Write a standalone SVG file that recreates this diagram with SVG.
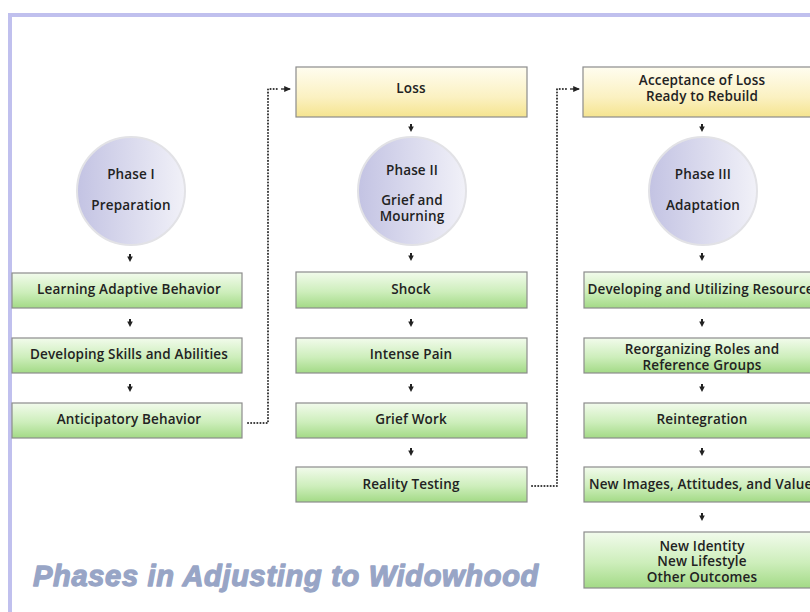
<svg xmlns="http://www.w3.org/2000/svg" width="810" height="612" viewBox="0 0 810 612">
  <defs>
    <linearGradient id="gGreen" x1="0" y1="0" x2="0" y2="1">
      <stop offset="0" stop-color="#f2fbec"/>
      <stop offset="0.55" stop-color="#cdeebb"/>
      <stop offset="1" stop-color="#a3da86"/>
    </linearGradient>
    <linearGradient id="gYellow" x1="0" y1="0" x2="0" y2="1">
      <stop offset="0" stop-color="#fffdf0"/>
      <stop offset="0.6" stop-color="#fbf1c2"/>
      <stop offset="1" stop-color="#f5e48f"/>
    </linearGradient>
    <linearGradient id="gPhase" x1="0" y1="0" x2="1" y2="0">
      <stop offset="0" stop-color="#c3c3e3"/>
      <stop offset="1" stop-color="#f1f1f8"/>
    </linearGradient>
    <marker id="head" viewBox="0 0 6 6" refX="5" refY="3" markerWidth="7" markerHeight="7" orient="auto" markerUnits="userSpaceOnUse">
      <path d="M0,0.5 L6,3 L0,5.5 Z" fill="#222"/>
    </marker>
    <!-- small downward arrow used between stacked items -->
    <path id="down" d="M-1,-4 h2 v2.5 h1.8 l-2.8,5.5 l-2.8,-5.5 h1.8 Z"/>
  </defs>
  <style>
    .box { stroke: #8c8c8c; stroke-width: 1.2; }
    .green { fill: url(#gGreen); }
    .yellow { fill: url(#gYellow); }
    .phase { fill: url(#gPhase); stroke: #e2e2e6; stroke-width: 2; }
    .lbl { font-family: "Open Sans", "Liberation Sans", sans-serif; font-weight: 600; font-size: 13.5px; letter-spacing: 0.15px; fill: #222; text-anchor: middle; dominant-baseline: central; }
    .dot { fill: none; stroke: #333; stroke-width: 2; stroke-dasharray: 0.1 3; stroke-linecap: round; }
    .tick { fill: #222; }
    .title { font-family: "Liberation Sans", Arial, sans-serif; font-weight: bold; font-style: italic; font-size: 29px; fill: #98a5c6; stroke: #98a5c6; stroke-width: 1.3; stroke-linejoin: round; letter-spacing: 0.7px; }
  </style>

  <rect x="0" y="0" width="810" height="612" fill="#ffffff"/>
  <!-- frame -->
  <path d="M10,612 L10,15 L810,15" fill="none" stroke="#c0c0ee" stroke-width="4"/>

  <!-- Phase I column -->
  <g id="phase1">
    <circle cx="131" cy="191" r="54" class="phase"/>
    <text x="131" y="174" class="lbl">Phase I</text>
    <text x="131" y="205" class="lbl">Preparation</text>
  </g>
  <g id="learning">
    <rect x="12" y="273" width="230" height="35" class="box green"/>
    <text x="129" y="289" class="lbl">Learning Adaptive Behavior</text>
  </g>
  <g id="skills">
    <rect x="12" y="338" width="230" height="35" class="box green"/>
    <text x="129" y="354" class="lbl">Developing Skills and Abilities</text>
  </g>
  <g id="anticipatory">
    <rect x="12" y="403" width="230" height="35" class="box green"/>
    <text x="129" y="419" class="lbl">Anticipatory Behavior</text>
  </g>

  <!-- Phase II column -->
  <g id="loss">
    <rect x="296" y="67" width="231" height="50" class="box yellow"/>
    <text x="411" y="88" class="lbl">Loss</text>
  </g>
  <g id="phase2">
    <circle cx="412" cy="191" r="54" class="phase"/>
    <text x="412" y="170" class="lbl">Phase II</text>
    <text x="412" y="200" class="lbl">Grief and</text>
    <text x="412" y="216" class="lbl">Mourning</text>
  </g>
  <g id="shock">
    <rect x="296" y="272" width="231" height="36" class="box green"/>
    <text x="411" y="289" class="lbl">Shock</text>
  </g>
  <g id="pain">
    <rect x="296" y="338" width="231" height="35" class="box green"/>
    <text x="411" y="354" class="lbl">Intense Pain</text>
  </g>
  <g id="griefwork">
    <rect x="296" y="403" width="231" height="35" class="box green"/>
    <text x="411" y="419" class="lbl">Grief Work</text>
  </g>
  <g id="reality">
    <rect x="296" y="467" width="231" height="35" class="box green"/>
    <text x="411" y="484" class="lbl">Reality Testing</text>
  </g>

  <!-- Phase III column -->
  <g id="acceptance">
    <rect x="583" y="67" width="240" height="50" class="box yellow"/>
    <text x="702" y="80" class="lbl">Acceptance of Loss</text>
    <text x="702" y="95.5" class="lbl">Ready to Rebuild</text>
  </g>
  <g id="phase3">
    <circle cx="703" cy="191" r="54" class="phase"/>
    <text x="703" y="174" class="lbl">Phase III</text>
    <text x="703" y="205" class="lbl">Adaptation</text>
  </g>
  <g id="resources">
    <rect x="584" y="272" width="240" height="36" class="box green"/>
    <text x="704" y="289" class="lbl">Developing and Utilizing Resources</text>
  </g>
  <g id="roles">
    <rect x="584" y="338" width="240" height="35" class="box green"/>
    <text x="702" y="349" class="lbl">Reorganizing Roles and</text>
    <text x="702" y="364.5" class="lbl">Reference Groups</text>
  </g>
  <g id="reintegration">
    <rect x="584" y="403" width="240" height="35" class="box green"/>
    <text x="702" y="419" class="lbl">Reintegration</text>
  </g>
  <g id="images">
    <rect x="584" y="467" width="240" height="35" class="box green"/>
    <text x="704" y="484" class="lbl">New Images, Attitudes, and Values</text>
  </g>
  <g id="outcomes">
    <rect x="584" y="532" width="240" height="56" class="box green"/>
    <text x="702" y="545.5" class="lbl">New Identity</text>
    <text x="702" y="561" class="lbl">New Lifestyle</text>
    <text x="702" y="576.5" class="lbl">Other Outcomes</text>
  </g>

  <!-- connectors -->
  <g id="connectors">
    <g class="tick">
      <use href="#down" x="130" y="258"/>
      <use href="#down" x="130" y="323"/>
      <use href="#down" x="130" y="388"/>

      <use href="#down" x="411" y="128"/>
      <use href="#down" x="411" y="257"/>
      <use href="#down" x="411" y="323"/>
      <use href="#down" x="411" y="388"/>
      <use href="#down" x="411" y="452"/>

      <use href="#down" x="702" y="128"/>
      <use href="#down" x="702" y="257"/>
      <use href="#down" x="702" y="323"/>
      <use href="#down" x="702" y="388"/>
      <use href="#down" x="702" y="452"/>
      <use href="#down" x="702" y="517"/>
    </g>
    <!-- dotted hand-offs between phases -->
    <path d="M248,423 H268 V89 H277" class="dot"/>
    <path d="M281,89 H290" stroke="#222" stroke-width="1.3" marker-end="url(#head)"/>
    <path d="M532,486 H557 V89 H566" class="dot"/>
    <path d="M570,89 H579" stroke="#222" stroke-width="1.3" marker-end="url(#head)"/>
  </g>

  <text x="33" y="586" class="title">Phases in Adjusting to Widowhood</text>
</svg>
